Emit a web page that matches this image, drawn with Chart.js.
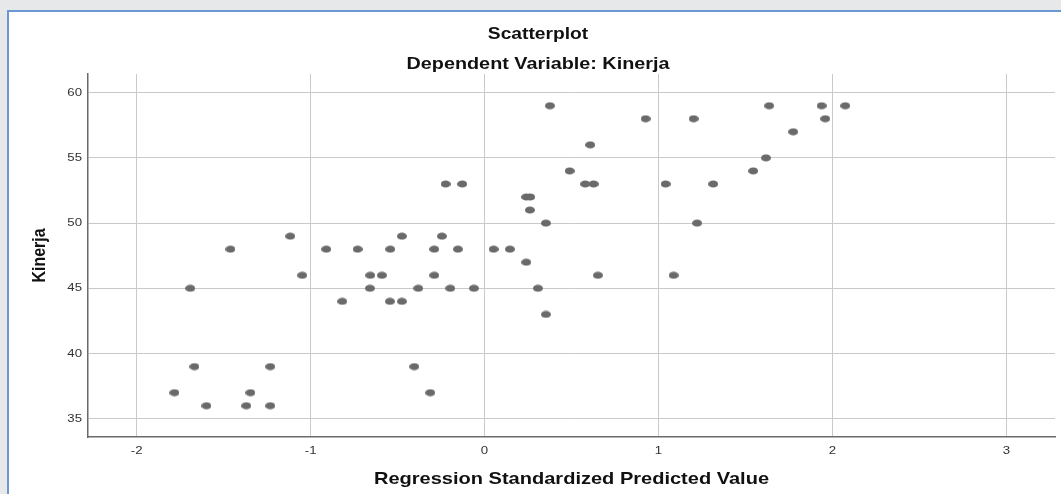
<!DOCTYPE html>
<html>
<head>
<meta charset="utf-8">
<script src="https://cdn.jsdelivr.net/npm/chart.js@4/dist/chart.umd.min.js"></script>
<style>
    html, body { margin: 0; padding: 0; overflow: hidden; background: #e6e8ea; }
    .frame {
        position: absolute; left: 7px; top: 10px; width: 1090px; height: 500px;
        background: #fff; border: 2px solid #6b98d2; box-sizing: border-box;
    }
    .wrap { position: absolute; left: 0; top: 0; width: 1076px; height: 494px; }
</style>
</head>
<body>
<div class="frame"></div>
<div class="wrap"><canvas id="chart-scatter"></canvas></div>
<script>
// Regression standardized predicted value (x) and Kinerja (y)
const predicted = [
    0.376, 1.637, 1.938, 2.074,
    0.926, 1.202, 1.959,
    1.775,
    0.608,
    1.618,
    0.489, 1.545,
    -0.224, -0.128, 0.579, 0.627, 1.041, 1.315,
    0.240, 0.263,
    0.261,
    0.353, 1.222,
    -1.117, -0.475, -0.245,
    -1.461, -0.910, -0.730, -0.542, -0.289, -0.153, 0.052, 0.146,
    0.240,
    -1.048, -0.657, -0.590, -0.289, 0.652, 1.087,
    -1.692, -0.659, -0.381, -0.197, -0.061, 0.307,
    -0.818, -0.544, -0.475,
    0.353,
    -1.668, -1.232, -0.404,
    -1.783, -1.346, -0.312,
    -1.599, -1.370, -1.232
];
const kinerja = [
    59, 59, 59, 59,
    58, 58, 58,
    57,
    56,
    55,
    54, 54,
    53, 53, 53, 53, 53, 53,
    52, 52,
    51,
    50, 50,
    49, 49, 49,
    48, 48, 48, 48, 48, 48, 48, 48,
    47,
    46, 46, 46, 46, 46, 46,
    45, 45, 45, 45, 45, 45,
    44, 44, 44,
    43,
    39, 39, 39,
    37, 37, 37,
    36, 36, 36
];
const xTicks = [-2, -1, 0, 1, 2, 3];
const yTicks = [35, 40, 45, 50, 55, 60];

// the SPSS screenshot is stretched sideways a little: dots are wider than tall
const STRETCH = 1.2;
const dot = document.createElement('canvas');
dot.width = 10; dot.height = 8;
const dctx = dot.getContext('2d');
dctx.fillStyle = '#6a6a6a';
dctx.beginPath();
dctx.ellipse(5, 4, 5, 3.6, 0, 0, Math.PI * 2);
dctx.fill();

const fontFam = '"Liberation Sans", Arial, sans-serif';

// stretch text the same way (horizontally on screen, also for the rotated title)
const canvas = document.getElementById('chart-scatter');
const ctx = canvas.getContext('2d');
const baseFillText = ctx.fillText;
ctx.fillText = function (text, x, y) {
    const rotated = Math.abs(this.getTransform().b) > 0.5;
    this.save();
    this.translate(x, y);
    if (rotated) this.scale(1, STRETCH); else this.scale(STRETCH, 1);
    baseFillText.call(this, text, 0, 0);
    this.restore();
};

new Chart(canvas, {
    type: 'scatter',
    data: {
        datasets: [{
            data: predicted.map((x, i) => ({ x: x, y: kinerja[i] })),
            pointStyle: dot,
            pointRadius: 5,
            pointHoverRadius: 5
        }]
    },
    options: {
        responsive: true,
        maintainAspectRatio: false,
        animation: false,
        layout: { padding: { left: 21, right: 21, top: 0, bottom: 0 } },
        plugins: {
            legend: { display: false },
            tooltip: { enabled: false },
            title: {
                display: true,
                text: 'Scatterplot',
                color: '#111',
                font: { family: fontFam, size: 16, weight: 'bold' },
                padding: { top: 25, bottom: 5 }
            },
            subtitle: {
                display: true,
                text: 'Dependent Variable: Kinerja',
                color: '#111',
                font: { family: fontFam, size: 16.5, weight: 'bold' },
                padding: { top: 5, bottom: 0 }
            }
        },
        scales: {
            x: {
                type: 'linear',
                min: -2.28,
                max: 3.28,
                afterBuildTicks: s => { s.ticks = xTicks.map(v => ({ value: v })); },
                afterFit: s => { s.height = 57; },
                grid: { color: '#c9c9c9', lineWidth: 1, drawTicks: false },
                border: { color: '#6a6a6a', width: 1.5 },
                ticks: { color: '#333', font: { family: fontFam, size: 11 }, padding: 7 },
                title: {
                    display: true,
                    text: 'Regression Standardized Predicted Value',
                    color: '#111',
                    font: { family: fontFam, size: 16.7, weight: 'bold' },
                    padding: { top: 0, bottom: 5 }
                }
            },
            y: {
                min: 33.6,
                max: 61.43,
                afterBuildTicks: s => { s.ticks = yTicks.map(v => ({ value: v })); },
                afterFit: s => { s.width = 67; },
                grid: { color: '#c9c9c9', lineWidth: 1, drawTicks: false },
                border: { color: '#6a6a6a', width: 1.5 },
                ticks: { color: '#333', font: { family: fontFam, size: 11 }, padding: 6 },
                title: {
                    display: true,
                    text: 'Kinerja',
                    color: '#111',
                    font: { family: fontFam, size: 16, weight: 'bold' },
                    padding: { top: 9, bottom: 0 }
                }
            }
        }
    }
});
</script>
</body>
</html>
